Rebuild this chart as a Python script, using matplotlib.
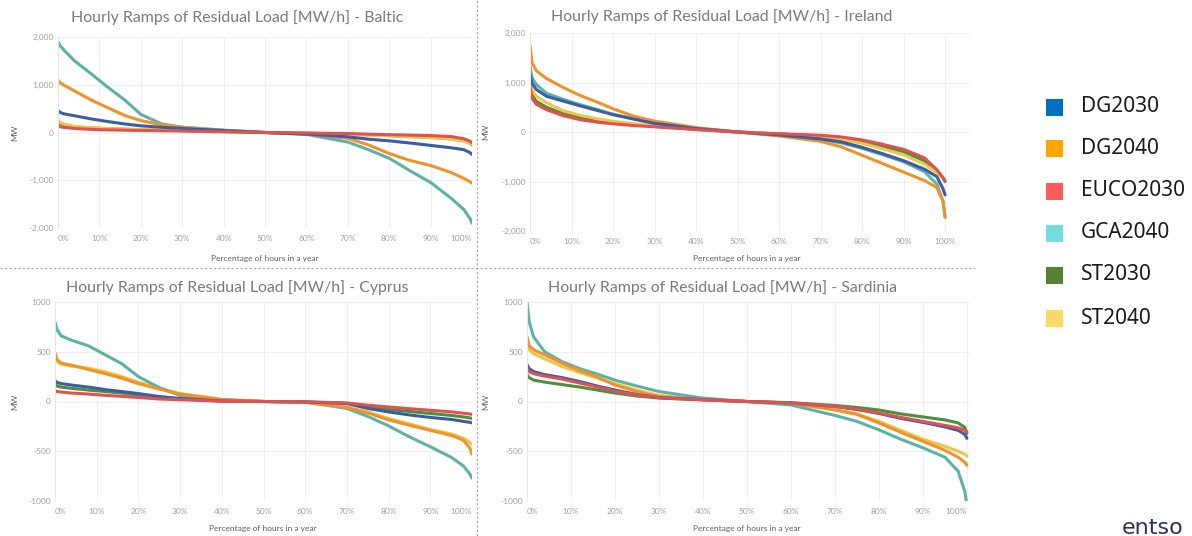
import matplotlib
matplotlib.use("Agg")
import matplotlib.pyplot as plt
from matplotlib.lines import Line2D
from matplotlib.patches import Rectangle

# ---------------- data ----------------
SCENARIOS = ["DG2030", "DG2040", "EUCO2030", "GCA2040", "ST2030", "ST2040"]
X_PCT = [0, 0.5, 1.5, 4, 8, 12, 16, 20, 25, 30, 40, 50, 60, 70, 75, 80, 85, 90, 95, 98, 99.5, 100]
X_TICKS = [0, 10, 20, 30, 40, 50, 60, 70, 80, 90, 100]
X_TICK_LABELS = ["0%", "10%", "20%", "30%", "40%", "50%", "60%", "70%", "80%", "90%", "100%"]
Y_TICKS_TOP = [-2000, -1000, 0, 1000, 2000]
Y_LABELS_TOP = ["-2,000", "-1,000", "0", "1,000", "2,000"]
Y_TICKS_BOTTOM = [-1000, -500, 0, 500, 1000]
Y_LABELS_BOTTOM = ["-1000", "-500", "0", "500", "1000"]

BALTIC_DG2030 = [460, 420, 390, 350, 285, 230, 180, 140, 110, 85, 40, 0, -35, -90, -140, -175, -220, -270, -320, -360, -420, -460]
BALTIC_DG2040 = [1100, 1040, 990, 870, 680, 520, 360, 250, 160, 110, 45, 0, -30, -120, -260, -440, -585, -690, -840, -960, -1030, -1060]
BALTIC_EUCO2030 = [140, 120, 105, 85, 65, 55, 48, 42, 35, 30, 15, 0, -10, -22, -35, -45, -55, -65, -85, -130, -180, -210]
BALTIC_GCA2040 = [1900, 1820, 1720, 1500, 1230, 950, 690, 380, 180, 110, 50, 0, -40, -200, -360, -540, -800, -1045, -1380, -1610, -1800, -1900]
BALTIC_ST2030 = [220, 190, 160, 120, 95, 80, 68, 58, 48, 40, 20, 0, -15, -35, -50, -65, -80, -100, -130, -170, -220, -260]
BALTIC_ST2040 = [250, 210, 175, 130, 100, 85, 72, 62, 52, 42, 22, 0, -18, -40, -55, -70, -90, -110, -140, -180, -230, -250]

IRELAND_DG2030 = [1150, 980, 860, 720, 625, 530, 440, 350, 260, 175, 70, 0, -60, -140, -200, -310, -440, -580, -750, -900, -1150, -1270]
IRELAND_DG2040 = [1750, 1400, 1240, 1080, 900, 740, 610, 470, 320, 220, 90, 0, -80, -190, -300, -470, -640, -810, -980, -1120, -1400, -1720]
IRELAND_EUCO2030 = [920, 680, 560, 450, 330, 250, 200, 165, 130, 105, 50, 0, -35, -65, -100, -160, -250, -350, -520, -760, -920, -1000]
IRELAND_GCA2040 = [1330, 1100, 960, 780, 660, 555, 460, 360, 270, 180, 70, 0, -65, -150, -220, -330, -460, -600, -800, -1050, -1400, -1720]
IRELAND_ST2030 = [980, 750, 620, 500, 370, 290, 230, 185, 145, 115, 52, 0, -40, -80, -120, -190, -290, -400, -580, -790, -940, -990]
IRELAND_ST2040 = [1060, 850, 720, 590, 430, 340, 270, 215, 170, 130, 55, 0, -45, -100, -150, -230, -340, -460, -650, -820, -930, -980]

CYPRUS_DG2030 = [210, 190, 180, 165, 145, 120, 100, 80, 50, 30, 5, 0, -5, -20, -70, -105, -135, -160, -180, -200, -210, -215]
CYPRUS_DG2040 = [490, 420, 385, 365, 322, 280, 235, 180, 125, 75, 20, 0, -8, -60, -115, -185, -238, -290, -340, -390, -470, -530]
CYPRUS_EUCO2030 = [110, 100, 95, 85, 75, 62, 52, 40, 25, 18, 3, 0, -3, -15, -37, -55, -72, -88, -104, -118, -125, -130]
CYPRUS_GCA2040 = [800, 720, 660, 615, 560, 470, 380, 250, 140, 60, 15, 0, -5, -70, -150, -245, -355, -455, -560, -650, -730, -770]
CYPRUS_ST2030 = [170, 155, 145, 132, 115, 100, 85, 65, 42, 25, 5, 0, -5, -18, -50, -80, -100, -120, -140, -155, -165, -170]
CYPRUS_ST2040 = [440, 400, 375, 355, 335, 300, 250, 195, 135, 80, 22, 0, -8, -55, -105, -170, -225, -280, -325, -370, -410, -430]

SARDINIA_DG2030 = [370, 330, 300, 270, 240, 200, 155, 115, 70, 40, 20, 0, -15, -50, -80, -120, -170, -210, -255, -290, -330, -370]
SARDINIA_DG2040 = [650, 560, 520, 470, 385, 310, 245, 165, 100, 50, 17, 0, -17, -85, -130, -215, -310, -400, -490, -560, -610, -640]
SARDINIA_EUCO2030 = [330, 300, 280, 255, 225, 185, 145, 105, 65, 38, 18, 0, -14, -48, -78, -115, -160, -200, -240, -265, -290, -305]
SARDINIA_GCA2040 = [1000, 800, 650, 500, 400, 330, 275, 215, 155, 100, 34, 0, -35, -140, -200, -285, -380, -465, -560, -700, -900, -1040]
SARDINIA_ST2030 = [270, 240, 215, 195, 170, 145, 115, 85, 55, 35, 15, 0, -12, -40, -60, -85, -125, -155, -185, -215, -260, -320]
SARDINIA_ST2040 = [560, 520, 480, 430, 350, 290, 235, 180, 115, 60, 20, 0, -15, -80, -125, -200, -290, -380, -450, -500, -530, -550]

REGIONS = ["Baltic", "Ireland", "Cyprus", "Sardinia"]
SERIES = {
    "Baltic": dict(zip(SCENARIOS, [BALTIC_DG2030, BALTIC_DG2040, BALTIC_EUCO2030, BALTIC_GCA2040, BALTIC_ST2030, BALTIC_ST2040])),
    "Ireland": dict(zip(SCENARIOS, [IRELAND_DG2030, IRELAND_DG2040, IRELAND_EUCO2030, IRELAND_GCA2040, IRELAND_ST2030, IRELAND_ST2040])),
    "Cyprus": dict(zip(SCENARIOS, [CYPRUS_DG2030, CYPRUS_DG2040, CYPRUS_EUCO2030, CYPRUS_GCA2040, CYPRUS_ST2030, CYPRUS_ST2040])),
    "Sardinia": dict(zip(SCENARIOS, [SARDINIA_DG2030, SARDINIA_DG2040, SARDINIA_EUCO2030, SARDINIA_GCA2040, SARDINIA_ST2030, SARDINIA_ST2040])),
}

# ---------------- style ----------------
LINE_COLORS = {"DG2030": "#3b5da6", "DG2040": "#f0922a", "EUCO2030": "#e05252",
               "GCA2040": "#5cb3a4", "ST2030": "#4f8f3c", "ST2040": "#efc64a"}
LEGEND_COLORS = {"DG2030": "#0070c0", "DG2040": "#ffa500", "EUCO2030": "#ff5b5b",
                 "GCA2040": "#73dde0", "ST2030": "#548235", "ST2040": "#ffd966"}
DRAW_ORDER = ["ST2030", "ST2040", "GCA2040", "DG2040", "DG2030", "EUCO2030"]

W, H = 1192, 536
fig = plt.figure(figsize=(W / 100, H / 100), dpi=100)
fig.patch.set_facecolor("white")

def px_axes(left, top, right, bottom):
    return fig.add_axes([left / W, 1 - bottom / H, (right - left) / W, (bottom - top) / H])

PANELS = {
    "Baltic": dict(box=(58, 37, 472, 228), xlim=(0, 100), ylim=(-2000, 2000), yt=(Y_TICKS_TOP, Y_LABELS_TOP),
                   tc=(237, 18), xl=(265, 258), mw=15, last_ha="right"),
    "Ireland": dict(box=(530, 33, 970, 231), xlim=(0, 106), ylim=(-2000, 2000), yt=(Y_TICKS_TOP, Y_LABELS_TOP),
                    tc=(722, 17), xl=(747, 258), mw=486, last_ha="center"),
    "Cyprus": dict(box=(55, 302, 472, 501), xlim=(0, 100), ylim=(-1000, 1000), yt=(Y_TICKS_BOTTOM, Y_LABELS_BOTTOM),
                   tc=(237, 288), xl=(263, 528), mw=15, last_ha="right"),
    "Sardinia": dict(box=(527, 302, 970, 501), xlim=(0, 100.7), ylim=(-1000, 1000), yt=(Y_TICKS_BOTTOM, Y_LABELS_BOTTOM),
                     tc=(722, 288), xl=(747, 528), mw=486, last_ha="right"),
}

TICK_COLOR = "#a0a0a0"
for region in REGIONS:
    p = PANELS[region]
    ax = px_axes(*p["box"])
    for name in DRAW_ORDER:
        ax.plot(X_PCT, SERIES[region][name], color=LINE_COLORS[name], lw=2.2,
                solid_capstyle="round", solid_joinstyle="round")
    ax.set_xlim(*p["xlim"])
    ax.set_ylim(*p["ylim"])
    ax.set_xticks(X_TICKS)
    ax.set_xticklabels(X_TICK_LABELS)
    labels = ax.get_xticklabels()
    labels[0].set_horizontalalignment("left")
    labels[-1].set_horizontalalignment(p["last_ha"])
    ax.set_yticks(p["yt"][0])
    ax.set_yticklabels(p["yt"][1])
    ax.tick_params(axis="x", length=0, labelsize=6, labelcolor=TICK_COLOR, pad=5)
    ax.tick_params(axis="y", length=0, labelsize=6, labelcolor=TICK_COLOR, pad=3)
    for lab in ax.get_xticklabels() + ax.get_yticklabels():
        lab.set_fontfamily("Lato")
    ax.grid(True, color="#efefef", lw=0.8)
    ax.set_axisbelow(True)
    for s in ax.spines.values():
        s.set_visible(False)
    ax.spines["left"].set_visible(True)
    ax.spines["left"].set_color("#e6e6e6")
    ax.spines["left"].set_linewidth(0.8)
    fig.text(p["tc"][0] / W, 1 - p["tc"][1] / H, f"Hourly Ramps of Residual Load [MW/h] - {region}",
             ha="center", va="center", fontsize=11.4, color="#7a7a7a", family="Lato")
    fig.text(p["xl"][0] / W, 1 - p["xl"][1] / H, "Percentage of hours in a year",
             ha="center", va="center", fontsize=6, color="#606060", family="Lato")
    cy = (p["box"][1] + p["box"][3]) / 2
    fig.text(p["mw"] / W, 1 - cy / H, "MW", rotation=90, ha="center", va="center",
             fontsize=6, color="#606060", family="Lato")

# dashed separators
fig.add_artist(Line2D([477 / W, 477 / W], [0, 1], color="#a8a8a8", lw=0.8, ls=(0, (2, 2))))
fig.add_artist(Line2D([0, 975 / W], [1 - 268 / H, 1 - 268 / H], color="#a8a8a8", lw=0.8, ls=(0, (2, 2))))

# legend
LEG_Y = [107, 148, 191, 233, 275, 318]
for name, yc in zip(SCENARIOS, LEG_Y):
    fig.add_artist(Rectangle((1046 / W, 1 - (yc + 8.5) / H), 17 / W, 17 / H,
                             transform=fig.transFigure, facecolor=LEGEND_COLORS[name], edgecolor="none"))
    fig.text(1081 / W, 1 - yc / H, name, ha="left", va="center", fontsize=15, color="#1a1a1a",
             family="Noto Sans")

# logo text at bottom right
fig.text(1122 / W, 1 - 533.5 / H, "entso", ha="left", va="baseline", fontsize=16,
         color="#2d2f5f", family="DejaVu Sans")

fig.savefig("out.png", dpi=100, facecolor="white")
